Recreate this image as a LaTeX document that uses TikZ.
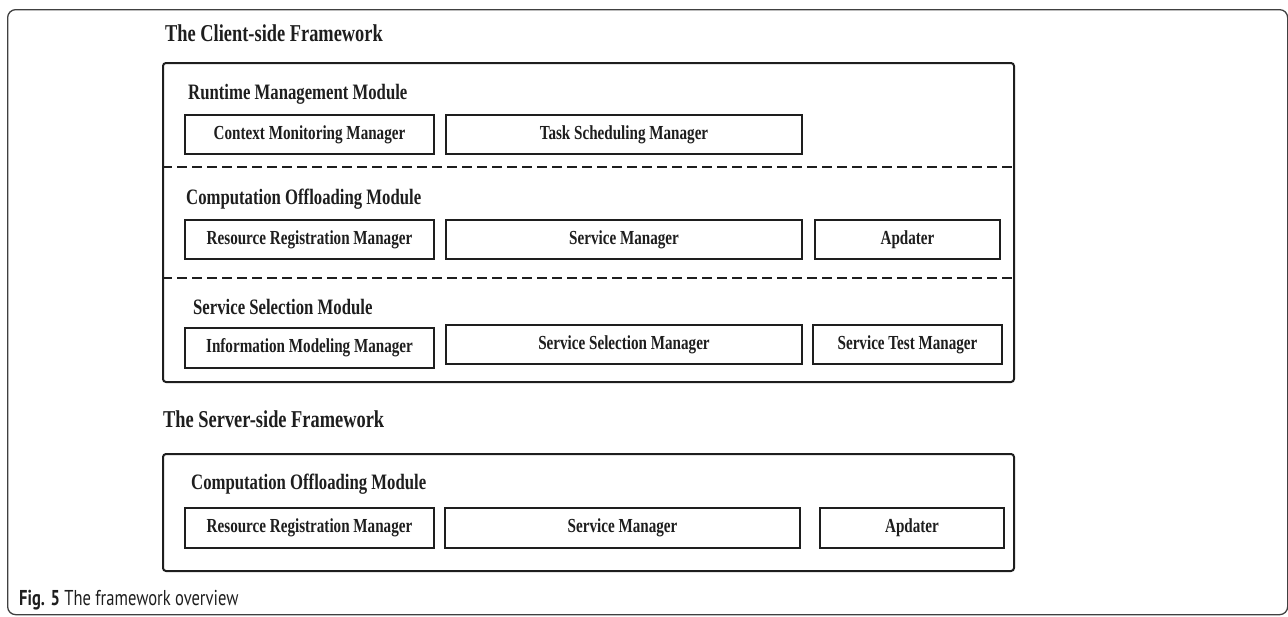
\documentclass[tikz,border=0pt]{standalone}
\usepackage{fontspec}
\newfontfamily\tnr{Liberation Serif}[FakeStretch=0.76]
\newfontfamily\capfont{PT Sans}[FakeStretch=0.77]
\usetikzlibrary{positioning}
\definecolor{ink}{HTML}{1E1E1E}
\tikzset{
  mgr/.style={draw=ink, line width=2pt, rectangle, anchor=north west, inner sep=0pt,
     font=\tnr\bfseries\fontsize{19.9}{22}\selectfont, text=ink},
  modframe/.style={draw=ink, line width=2pt, rounded corners=3pt, rectangle, anchor=north west, inner sep=0pt},
  modlabel/.style={anchor=base west, inner sep=0pt, font=\tnr\bfseries\fontsize{22}{24}\selectfont, text=ink},
  fwtitle/.style={anchor=base west, inner sep=0pt, font=\tnr\bfseries\fontsize{24.2}{26}\selectfont, text=ink},
  dashline/.style={draw=ink, line width=2pt, dash pattern=on 10pt off 5pt},
  figframe/.style={draw=ink!85, line width=1.3pt, rounded corners=8pt, rectangle, anchor=north west, inner sep=0pt},
}
\begin{document}
\begin{tikzpicture}[x=1pt,y=-1pt]
\useasboundingbox (0,0) rectangle (1288,616);
\node[figframe, minimum width=1280pt, minimum height=605pt] (fig) at (7,9) {};
% client side
\node[fwtitle] (t1) at (165,41) {The Client-side Framework};
\node[modframe, minimum width=851pt, minimum height=319pt] (client) at (162,62) {};
\node[modlabel] (rmm) at (188,99) {Runtime Management Module};
\node[mgr, minimum width=249pt, minimum height=39pt] (cmm) at (184,114) {Context Monitoring Manager};
\node[mgr, minimum width=356pt, minimum height=39pt] (tsm) at (445,114) {Task Scheduling Manager};
\coordinate (d1) at (0,167);
\draw[dashline] (client.west |- d1) -- (client.east |- d1);
\node[modlabel] (com) at (186,204) {Computation Offloading Module};
\node[mgr, minimum width=249pt, minimum height=39pt] (rrm) at (184,219) {Resource Registration Manager};
\node[mgr, minimum width=356pt, minimum height=39pt] (sm) at (445,219) {Service Manager};
\node[mgr, minimum width=185pt, minimum height=39pt] (apd) at (814,219) {Apdater};
\coordinate (d2) at (0,278);
\draw[dashline] (client.west |- d2) -- (client.east |- d2);
\node[modlabel] (ssm) at (193,314) {Service Selection Module};
\node[mgr, minimum width=249pt, minimum height=40pt] (imm) at (184,327) {Information Modeling Manager};
\node[mgr, minimum width=356pt, minimum height=39pt] (sselm) at (445,324) {Service Selection Manager};
\node[mgr, minimum width=189pt, minimum height=39pt] (stm) at (812,324) {Service Test Manager};
% server side
\node[fwtitle] (t2) at (163,427) {The Server-side Framework};
\node[modframe, minimum width=851pt, minimum height=117pt] (server) at (162,453) {};
\node[modlabel] (com2) at (191,489) {Computation Offloading Module};
\node[mgr, minimum width=249pt, minimum height=40pt] (rrm2) at (184,507) {Resource Registration Manager};
\node[mgr, minimum width=355pt, minimum height=40pt] (sm2) at (444,507) {Service Manager};
\node[mgr, minimum width=184pt, minimum height=40pt] (apd2) at (819,507) {Apdater};
% caption
\node[anchor=base west, inner sep=0pt, font=\capfont\fontsize{21.5}{23}\selectfont, text=ink] (cap) at (19,605) {\textbf{Fig. 5} The framework overview};
\end{tikzpicture}
\end{document}
